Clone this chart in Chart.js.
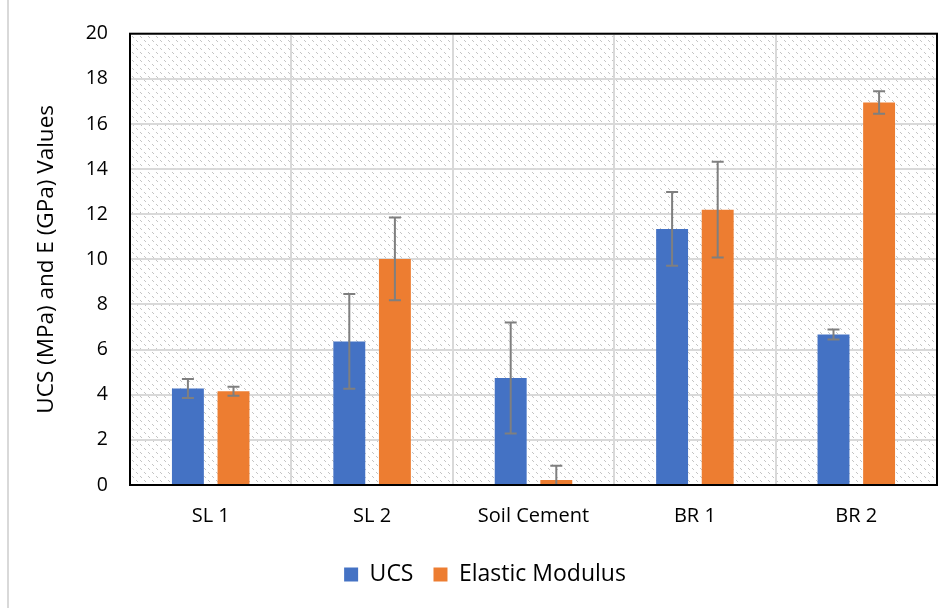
<!DOCTYPE html>
<html>
<head>
<meta charset="utf-8">
<script src="https://cdn.jsdelivr.net/npm/chart.js@4.4.0/dist/chart.umd.min.js"></script>
<style>
  html, body { margin: 0; padding: 0; background: #fff; }
  #wrap { position: relative; width: 952px; height: 608px; }
  #edge { position: absolute; left: 7px; top: 0; width: 2px; height: 608px; background: #d9d9d9; }
</style>
</head>
<body>
<div id="wrap">
  <div id="edge"></div>
  <canvas id="chart" width="952" height="608"></canvas>
</div>
<script>
const categories = ['SL 1', 'SL 2', 'Soil Cement', 'BR 1', 'BR 2'];
const ucsValues = [4.28, 6.36, 4.74, 11.35, 6.67];
const ucsErrors = [0.42, 2.1, 2.46, 1.63, 0.22];
const modulusValues = [4.15, 10.02, 0.22, 12.2, 16.95];
const modulusErrors = [0.2, 1.83, 0.63, 2.12, 0.5];
const yTicks = [0, 2, 4, 6, 8, 10, 12, 14, 16, 18, 20];

const FONT = "'Open Sans', 'Noto Sans', sans-serif";

function hatchPattern(ctx) {
  const c = document.createElement('canvas');
  c.width = 8; c.height = 8;
  const p = c.getContext('2d');
  p.fillStyle = '#c4c4c4';
  for (let i = 0; i < 8; i++) {
    if (i % 4 < 2) p.fillRect(i, i, 1, 1);
  }
  return ctx.createPattern(c, 'repeat');
}

const plotBackground = {
  id: 'plotBackground',
  beforeDraw(chart) {
    const { ctx, chartArea: a } = chart;
    ctx.save();
    ctx.fillStyle = hatchPattern(ctx);
    ctx.fillRect(a.left, a.top, a.right - a.left, a.bottom - a.top);
    ctx.restore();
  },
  afterDraw(chart) {
    const { ctx, chartArea: a } = chart;
    ctx.save();
    ctx.strokeStyle = '#000';
    ctx.lineWidth = 2;
    ctx.strokeRect(a.left, a.top, a.right - a.left, a.bottom - a.top);
    ctx.restore();
  }
};

const errorBars = {
  id: 'errorBars',
  afterDatasetsDraw(chart) {
    const { ctx, chartArea: a } = chart;
    const y = chart.scales.y;
    ctx.save();
    ctx.beginPath();
    ctx.rect(a.left, a.top, a.right - a.left, a.bottom - a.top);
    ctx.clip();
    ctx.strokeStyle = '#7f7f7f';
    ctx.lineWidth = 2;
    chart.data.datasets.forEach((ds, di) => {
      const meta = chart.getDatasetMeta(di);
      meta.data.forEach((bar, i) => {
        const v = ds.data[i], e = ds.errors[i];
        const x = bar.x;
        const top = y.getPixelForValue(v + e);
        const bot = y.getPixelForValue(v - e);
        ctx.beginPath();
        ctx.moveTo(x, top); ctx.lineTo(x, bot);
        ctx.moveTo(x - 6, top); ctx.lineTo(x + 6, top);
        ctx.moveTo(x - 6, bot); ctx.lineTo(x + 6, bot);
        ctx.stroke();
      });
    });
    ctx.restore();
  }
};

new Chart(document.getElementById('chart'), {
  type: 'bar',
  data: {
    labels: categories,
    datasets: [
      {
        label: 'UCS',
        data: ucsValues,
        errors: ucsErrors,
        backgroundColor: '#4472c4',
        categoryPercentage: 0.565,
        barPercentage: 0.7
      },
      {
        label: 'Elastic Modulus',
        data: modulusValues,
        errors: modulusErrors,
        backgroundColor: '#ed7d31',
        categoryPercentage: 0.565,
        barPercentage: 0.7
      }
    ]
  },
  options: {
    responsive: false,
    animation: false,
    layout: { padding: { left: 33, right: 15, top: 31, bottom: 12 } },
    scales: {
      x: {
        grid: { color: '#d9d9d9', lineWidth: 2, offset: true, drawTicks: false },
        border: { display: false },
        ticks: { color: '#000', font: { family: FONT, size: 20 }, padding: 19 },
        afterFit(scale) { scale.height = 58; }
      },
      y: {
        min: 0,
        max: 20,
        afterBuildTicks(scale) { scale.ticks = yTicks.map(v => ({ value: v })); },
        grid: { color: '#d9d9d9', lineWidth: 2, drawTicks: false },
        border: { display: false },
        ticks: { color: '#000', font: { family: FONT, size: 19.5 }, padding: 22 },
        title: {
          display: true,
          text: 'UCS (MPa) and E (GPa) Values',
          color: '#000',
          font: { family: FONT, size: 22.5 },
          padding: { top: 0, bottom: 4 }
        },
        afterFit(scale) { scale.width = 97; }
      }
    },
    plugins: {
      legend: {
        position: 'bottom',
        labels: {
          color: '#000',
          font: { family: FONT, size: 23 },
          boxWidth: 14,
          boxHeight: 14,
          padding: 20
        }
      },
      tooltip: { enabled: false }
    }
  },
  plugins: [plotBackground, errorBars]
});
</script>
</body>
</html>
